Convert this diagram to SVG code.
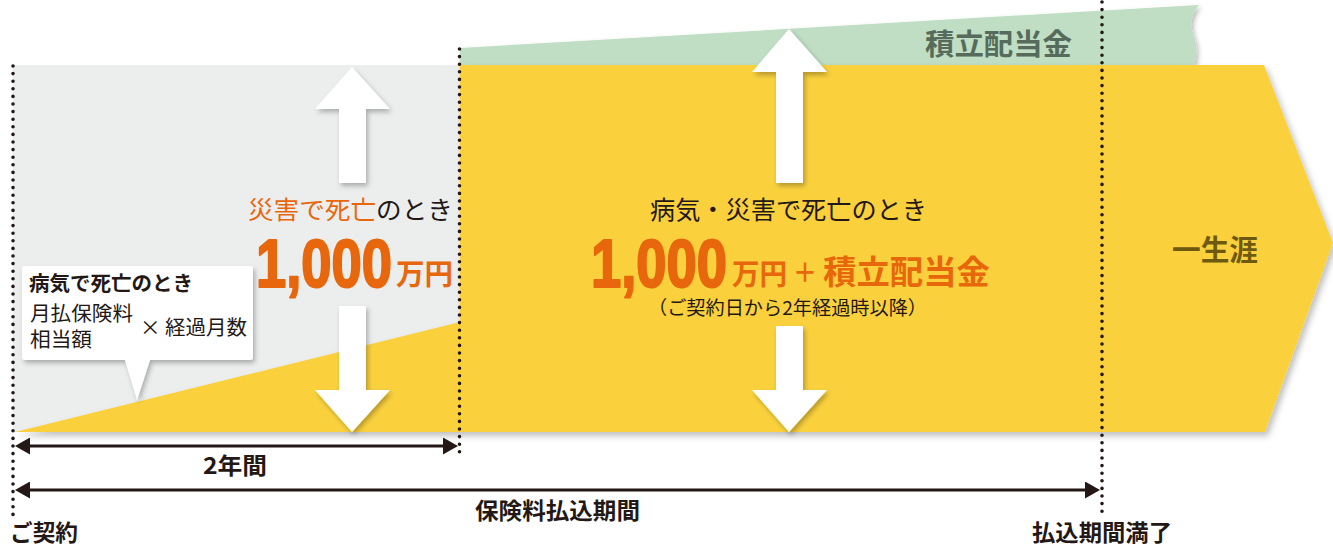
<svg xmlns="http://www.w3.org/2000/svg" width="1333" height="547" viewBox="0 0 1333 547">
<style>
.jp{font-family:"Noto Sans CJK JP","Noto Sans",sans-serif;}
.b{font-weight:700;}
.dk{fill:#231815;}
.or{fill:#e8670c;}
.dots{fill:none;stroke:#231815;stroke-width:3.6;stroke-linecap:round;stroke-dasharray:0 7.6;}
.hl{stroke:#231815;stroke-width:3;fill:none;}
.wa{fill:#ffffff;filter:url(#sh);}
.num{font-family:"Liberation Sans",Arial,sans-serif;font-weight:700;stroke:#e8670c;stroke-width:2.2;stroke-linejoin:round;}
</style>
<defs>
<filter id="sh" x="-20%" y="-20%" width="150%" height="150%">
<feDropShadow dx="2" dy="3" stdDeviation="2.5" flood-color="#000" flood-opacity="0.28"/>
</filter>
<filter id="shb" x="-5%" y="-5%" width="110%" height="115%">
<feDropShadow dx="3" dy="4" stdDeviation="3" flood-color="#000" flood-opacity="0.25"/>
</filter>
<marker id="ah" markerUnits="userSpaceOnUse" markerWidth="16" markerHeight="17" viewBox="0 0 16 17" refX="10" refY="8.5" orient="auto-start-reverse">
<path d="M0,0 L15,8.5 L0,17 Z" fill="#231815"/>
</marker>
</defs>

<g id="band-gray">
<rect x="13" y="65" width="447" height="367" fill="#eceeee"/>
</g>

<g id="band-green">
<path d="M460,48 L1199,5 C1190,15 1190,27 1194,37 C1198,48 1196,57 1194,65 L460,65 Z" fill="#bfdec4" filter="url(#sh)"/>
<text class="jp b" x="925" y="55" font-size="29" fill="#566b5c" textLength="147" lengthAdjust="spacingAndGlyphs">積立配当金</text>
</g>

<g id="band-yellow">
<path d="M15,432 L460,322 L460,65 L1264,65 L1333,243 L1265,432 Z" fill="#fad13e" filter="url(#shb)"/>
</g>

<g id="arrows-white">
<path class="wa" d="M352,67 L390,109 L366,109 L366,183 L339,183 L339,109 L315,109 Z"/>
<path class="wa" d="M339,306 L366,306 L366,390 L390,390 L352,432 L315,390 L339,390 Z"/>
<path class="wa" d="M789,29 L827,72 L803,72 L803,183 L776,183 L776,72 L752,72 Z"/>
<path class="wa" d="M776,326 L803,326 L803,390 L827,390 L789,432 L752,390 L776,390 Z"/>
</g>

<g id="guides">
<line class="dots" x1="13" y1="66" x2="13" y2="515"/>
<line class="dots" x1="459.5" y1="49" x2="459.5" y2="457"/>
<line class="dots" x1="1102" y1="2" x2="1102" y2="515"/>
</g>

<g id="node-accident">
<text class="jp" x="248" y="219" font-size="25" textLength="205" lengthAdjust="spacingAndGlyphs"><tspan class="or">災害で死亡</tspan><tspan class="dk">のとき</tspan></text>
<text class="num or" x="256" y="287" font-size="68" textLength="136" lengthAdjust="spacingAndGlyphs">1,000</text>
<text class="jp b or" x="396" y="285" font-size="29" textLength="57" lengthAdjust="spacingAndGlyphs">万円</text>
</g>

<g id="node-illness-callout">
<path d="M25,266 L250,266 Q253,266 253,269 L253,357 Q253,360 250,360 L150,360 L137,400 L125,360 L25,360 Q22,360 22,357 L22,269 Q22,266 25,266 Z" fill="#ffffff" filter="url(#sh)"/>
<text class="jp b dk" x="29" y="291" font-size="20" textLength="164" lengthAdjust="spacingAndGlyphs">病気で死亡のとき</text>
<text class="jp dk" x="30" y="321" font-size="20" textLength="103" lengthAdjust="spacingAndGlyphs">月払保険料</text>
<text class="jp dk" x="30" y="347" font-size="20" textLength="62" lengthAdjust="spacingAndGlyphs">相当額</text>
<text class="jp dk" x="140" y="335" font-size="20" textLength="107" lengthAdjust="spacingAndGlyphs">× 経過月数</text>
</g>

<g id="node-main">
<text class="jp dk" x="650" y="219" font-size="25" textLength="277" lengthAdjust="spacingAndGlyphs">病気・災害で死亡のとき</text>
<text class="num or" x="591" y="287" font-size="68" textLength="136" lengthAdjust="spacingAndGlyphs">1,000</text>
<text class="jp b or" x="732" y="285" font-size="29" textLength="55" lengthAdjust="spacingAndGlyphs">万円</text>
<text class="jp b or" x="793" y="282" font-size="26" textLength="24" lengthAdjust="spacingAndGlyphs">＋</text>
<text class="jp b or" x="823" y="284" font-size="33" textLength="167" lengthAdjust="spacingAndGlyphs">積立配当金</text>
<text class="jp dk" x="648" y="315" font-size="19" textLength="279" lengthAdjust="spacingAndGlyphs">（ご契約日から2年経過時以降）</text>
</g>

<g id="node-lifetime">
<text class="jp b" x="1172" y="261" font-size="29" fill="#6e5a0e" textLength="86" lengthAdjust="spacingAndGlyphs">一生涯</text>
</g>

<g id="connectors">
<line class="hl" x1="20" y1="446" x2="453" y2="446" marker-start="url(#ah)" marker-end="url(#ah)"/>
<line class="hl" x1="20" y1="490" x2="1095" y2="490" marker-start="url(#ah)" marker-end="url(#ah)"/>
</g>

<g id="labels-timeline">
<text class="jp b dk" x="203" y="474" font-size="23" textLength="64" lengthAdjust="spacingAndGlyphs">2年間</text>
<text class="jp b dk" x="475" y="519" font-size="23" textLength="165" lengthAdjust="spacingAndGlyphs">保険料払込期間</text>
<text class="jp b dk" x="10" y="541" font-size="23" textLength="68" lengthAdjust="spacingAndGlyphs">ご契約</text>
<text class="jp b dk" x="1032" y="541" font-size="23" textLength="140" lengthAdjust="spacingAndGlyphs">払込期間満了</text>
</g>
</svg>
